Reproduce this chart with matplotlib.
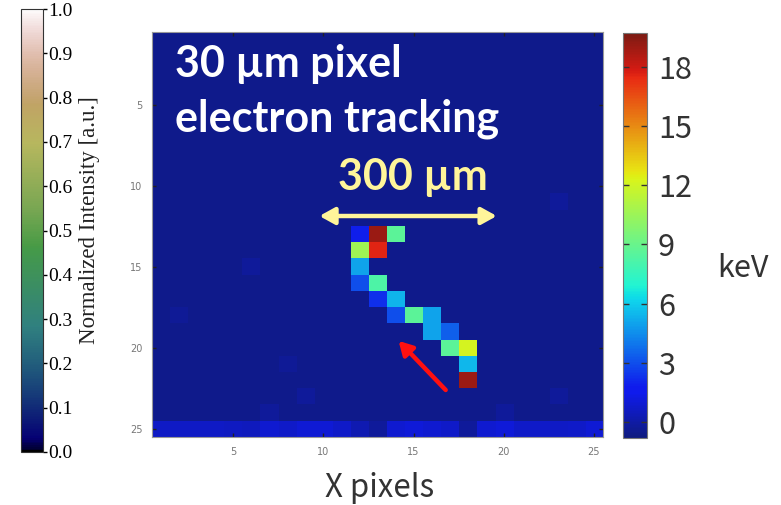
import matplotlib
matplotlib.use('Agg')
import matplotlib.pyplot as plt
import numpy as np
from matplotlib import cm, colors

# electron track pixels (1-based column / row) and deposited energy in keV
track_cols = [12, 13, 14, 12, 13, 12, 12, 13, 13, 14, 14, 15, 16, 16, 17, 17, 18, 18, 18]
track_rows = [13, 13, 13, 14, 14, 15, 16, 16, 17, 17, 18, 18, 18, 19, 19, 20, 20, 21, 22]
track_kev = [1.9, 19.0, 8.6, 10.6, 17.6, 5.0, 3.0, 8.2, 2.3, 5.4, 3.0, 8.6, 5.0, 5.0, 3.4, 8.6, 12.1, 5.5, 19.0]

# faint noise pixels
noise_cols = [6, 2, 8, 9, 7, 23, 23, 20]
noise_rows = [15, 18, 21, 23, 24, 11, 23, 24]
noise_kev = [-0.2, -0.25, -0.25, -0.2, -0.2, -0.2, -0.2, -0.2]

# bottom row (row 25), columns 1..25
bottom_row_kev = [0.7, 0.7, 0.7, 0.7, 0.6, 0.5, 0.9, 0.8, 1.0, 1.0, 0.8, 0.3, -0.2,
                  0.9, 1.1, 0.9, 0.8, -0.2, 0.9, 1.1, 0.8, 0.8, 0.7, 0.8, 1.0]
background_kev = -0.5

kev_ticks = [0, 3, 6, 9, 12, 15, 18]
intensity_ticks = [0.0, 0.1, 0.2, 0.3, 0.4, 0.5, 0.6, 0.7, 0.8, 0.9, 1.0]
pixel_ticks = [5, 10, 15, 20, 25]

frame = np.full((25, 25), background_kev)
for c, r, v in zip(noise_cols, noise_rows, noise_kev):
    frame[r - 1, c - 1] = v
frame[24, :] = bottom_row_kev
for c, r, v in zip(track_cols, track_rows, track_kev):
    frame[r - 1, c - 1] = v

# jet, slightly washed out like the original screenshot
jet = plt.get_cmap('jet')(np.linspace(0, 1, 256))[:, :3]
washed = colors.ListedColormap(jet * 0.85 + 0.15 * np.array([0.4, 0.7, 0.5]))

fig = plt.figure(figsize=(7.81, 5.05), dpi=100)

ax = fig.add_axes([0.1946, 0.1347, 0.5775, 0.802])
im = ax.imshow(frame, cmap=washed, vmin=-0.8, vmax=19.7, interpolation='nearest',
               extent=(0.5, 25.5, 25.5, 0.5), aspect='auto')
ax.set_xticks(pixel_ticks)
ax.set_yticks(pixel_ticks)
ax.tick_params(direction='in', length=3, width=1, color='#222222', top=True, right=True,
               labelsize=7, labelcolor='#777777', pad=7)
for s in ax.spines.values():
    s.set_color('#999999')

fig.text(0.4866, 0.0158, 'X pixels', ha='center', va='baseline', fontsize=22.5,
         color='#333333', family=['Noto Sans CJK JP', 'DejaVu Sans'])

# annotations
ax.text(1.78, 3.28, '30 µm pixel', color='white', fontsize=31, fontweight='bold',
        family='Lato', va='baseline')
ax.text(1.78, 6.67, 'electron tracking', color='white', fontsize=31, fontweight='bold',
        family='Lato', va='baseline')
ax.text(14.94, 10.25, '300 µm', color='#fff59a', fontsize=31, fontweight='bold',
        family='Lato', va='baseline', ha='center')
ax.annotate('', xy=(9.78, 11.86), xytext=(19.61, 11.86),
            arrowprops=dict(arrowstyle='<|-|>,head_length=0.9,head_width=0.5',
                            color='#fff59a', lw=3.2, shrinkA=0, shrinkB=0))
ax.annotate('', xy=(14.17, 19.57), xytext=(16.78, 22.6),
            arrowprops=dict(arrowstyle='-|>,head_length=0.8,head_width=0.45',
                            color='#ff1010', lw=3.2, shrinkA=0, shrinkB=0))

# keV colorbar
cax = fig.add_axes([0.7977, 0.1327, 0.0307, 0.802])
cb = fig.colorbar(im, cax=cax, ticks=kev_ticks)
cb.outline.set_edgecolor('#777777')
cax.tick_params(direction='in', length=4, width=1, color='#333333', left=True, right=True,
                labelsize=22, labelcolor='#333333', pad=8)
for t in cax.get_yticklabels():
    t.set_family(['Noto Sans CJK JP', 'DejaVu Sans'])
fig.text(0.919, 0.4515, 'keV', ha='left', va='baseline', fontsize=22,
         color='#333333', family=['Noto Sans CJK JP', 'DejaVu Sans'])

# normalized intensity colorbar
lax = fig.add_axes([0.0269, 0.105, 0.0282, 0.877])
sm = cm.ScalarMappable(norm=colors.Normalize(0, 1), cmap='gist_earth')
lcb = fig.colorbar(sm, cax=lax, ticks=intensity_ticks, format='%.1f')
lcb.outline.set_edgecolor('#333333')
lax.tick_params(direction='out', length=3, width=1, labelsize=14, pad=1)
for t in lax.get_yticklabels():
    t.set_family('Liberation Serif')
fig.text(0.114, 0.5644, 'Normalized Intensity [a.u.]', rotation=90, ha='center', va='center',
         fontsize=16.5, family='Liberation Serif', color='#222222')

fig.savefig('out.png', dpi=100)
